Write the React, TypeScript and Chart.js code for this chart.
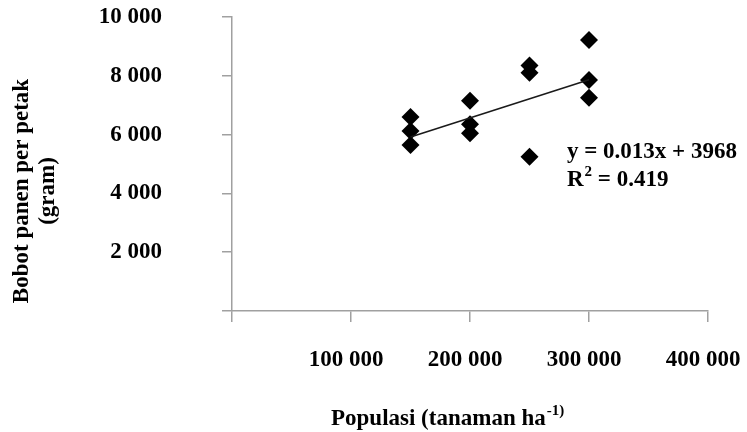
import React, { useEffect, useRef } from "react";
import { Chart, registerables } from "chart.js";

Chart.register(...registerables);

// ---- data ----
const populasi = [150000, 150000, 150000, 200000, 200000, 200000, 250000, 250000, 250000, 300000, 300000, 300000];
const bobot = [6600, 6120, 5650, 7150, 6350, 6050, 8350, 8100, 5250, 9220, 7860, 7250];
const trendX = [150000, 300000];
const trendY = [5918, 7868];
const xMin = 0;
const xMax = 400000;
const xStep = 100000;
const yMin = 0;
const yMax = 10000;
const yStep = 2000;
const yTitleLines = ["Bobot panen per petak", "(gram)"];
const xTitleMain = "Populasi (tanaman ha";
const xTitleSup = "-1)";
const eqLine1 = "y = 0.013x + 3968";
const eqLine2Pre = "R";
const eqLine2Sup = "2";
const eqLine2Post = " = 0.419";

const FONT = '"Liberation Serif", "Times New Roman", Times, serif';
const AXIS_COLOR = "#a0a0a0";

function fmt(v: number | string): string {
  const n = Number(v);
  if (n === 0) return "";
  return String(n).replace(/\B(?=(\d{3})+(?!\d))/g, " ");
}

const textPlugin = {
  id: "textPlugin",
  afterDraw(chart: any) {
    const ctx = chart.ctx as CanvasRenderingContext2D;
    ctx.save();
    ctx.fillStyle = "#000";
    // y-axis title (rotated, two lines)
    ctx.font = `bold 23px ${FONT}`;
    ctx.textAlign = "center";
    ctx.textBaseline = "middle";
    const yCenters = [22, 48];
    yTitleLines.forEach((line, i) => {
      ctx.save();
      ctx.translate(yCenters[i], 191);
      ctx.rotate(-Math.PI / 2);
      ctx.fillText(line, 0, 0);
      ctx.restore();
    });
    // x-axis title with superscript
    ctx.textAlign = "left";
    ctx.textBaseline = "alphabetic";
    ctx.font = `bold 23px ${FONT}`;
    const xt = 331;
    const xb = 425;
    ctx.fillText(xTitleMain, xt, xb);
    const w = ctx.measureText(xTitleMain).width;
    ctx.font = `bold 15px ${FONT}`;
    ctx.fillText(xTitleSup, xt + w + 1, xb - 10);
    // regression equation
    ctx.font = `bold 23px ${FONT}`;
    const ex = 567;
    ctx.fillText(eqLine1, ex, 158);
    ctx.fillText(eqLine2Pre, ex, 186);
    const rw = ctx.measureText(eqLine2Pre).width;
    ctx.font = `bold 15px ${FONT}`;
    ctx.fillText(eqLine2Sup, ex + rw + 1, 176);
    const sw = ctx.measureText(eqLine2Sup).width;
    ctx.font = `bold 23px ${FONT}`;
    ctx.fillText(eqLine2Post, ex + rw + sw + 1, 186);
    ctx.restore();
  },
};

function zeroPad(s: any) {
  s.paddingTop = 0;
  s.paddingBottom = 0;
  s.paddingLeft = 0;
  s.paddingRight = 0;
}

export default function App() {
  const ref = useRef<HTMLCanvasElement | null>(null);

  useEffect(() => {
    if (!ref.current) return;
    const tickFont = { family: FONT, size: 23, weight: "bold" as const };
    const chart = new Chart(ref.current, {
      type: "scatter",
      data: {
        datasets: [
          {
            type: "line",
            label: "trend",
            data: trendX.map((x, i) => ({ x, y: trendY[i] })),
            borderColor: "#1a1a1a",
            borderWidth: 1.6,
            pointRadius: 0,
            fill: false,
          } as any,
          {
            type: "scatter",
            label: "data",
            data: populasi.map((x, i) => ({ x, y: bobot[i] })),
            pointStyle: "rectRot",
            pointRadius: 9,
            backgroundColor: "#000",
            borderColor: "#000",
            borderWidth: 0,
          },
        ],
      },
      options: {
        animation: false,
        responsive: false,
        layout: { padding: { left: 0, top: 17, right: 39, bottom: 0 } },
        plugins: {
          legend: { display: false },
          tooltip: { enabled: false },
        },
        scales: {
          x: {
            type: "linear",
            position: "bottom",
            min: xMin,
            max: xMax,
            border: { color: AXIS_COLOR, width: 1.5 },
            grid: { drawOnChartArea: false, drawTicks: true, tickLength: 11, color: AXIS_COLOR, lineWidth: 1.5 },
            ticks: {
              stepSize: xStep,
              padding: 24,
              labelOffset: -5,
              color: "#000",
              font: tickFont,
              maxRotation: 0,
              autoSkip: false,
              callback: (v: any) => fmt(v),
            },
            afterFit: (s: any) => {
              s.height = 121;
              zeroPad(s);
            },
          },
          y: {
            type: "linear",
            position: "left",
            min: yMin,
            max: yMax,
            border: { color: AXIS_COLOR, width: 1.5 },
            grid: { drawOnChartArea: false, drawTicks: true, tickLength: 10, color: AXIS_COLOR, lineWidth: 1.5 },
            ticks: {
              stepSize: yStep,
              padding: 60,
              color: "#000",
              font: tickFont,
              callback: (v: any) => fmt(v),
            },
            afterFit: (s: any) => {
              s.width = 232;
              zeroPad(s);
            },
          },
        },
      },
      plugins: [textPlugin],
    });
    return () => chart.destroy();
  }, []);

  return (
    <div style={{ position: "absolute", left: 0, top: 0, width: 747, height: 432, background: "#fff" }}>
      <canvas ref={ref} width={747} height={432} style={{ display: "block" }} />
    </div>
  );
}
